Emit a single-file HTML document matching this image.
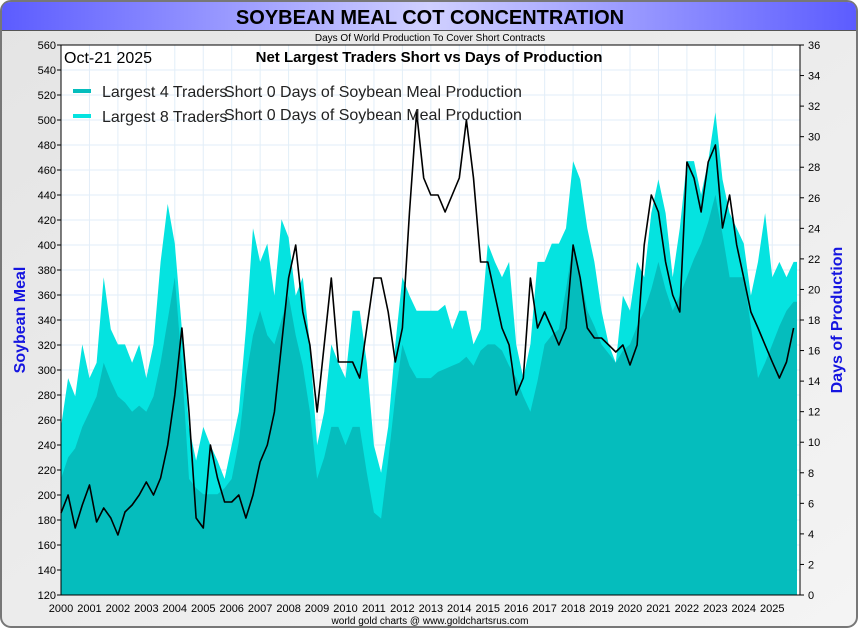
<!DOCTYPE html>
<html><head><meta charset="utf-8"><style>
html,body{margin:0;padding:0;background:#fff;}
svg{display:block;font-family:"Liberation Sans",sans-serif;}
</style></head><body>
<svg id="chart" width="860" height="630" viewBox="0 0 860 630">
<defs>
<linearGradient id="bg" x1="0" y1="0" x2="1" y2="1"><stop offset="0" stop-color="#e4e4e4"/><stop offset="1" stop-color="#f4f4f4"/></linearGradient>
<linearGradient id="tb" x1="0" y1="0" x2="1" y2="0"><stop offset="0" stop-color="#5c5cff"/><stop offset="0.5" stop-color="#d0d0ff"/><stop offset="1" stop-color="#5c5cff"/></linearGradient>
</defs>
<rect x="1" y="1" width="856" height="626" rx="10" fill="url(#bg)" stroke="#777" stroke-width="2"/>
<path d="M2,30 L2,11 Q2,2 11,2 L847,2 Q856,2 856,11 L856,30 Z" fill="url(#tb)"/>
<line x1="2" y1="30.5" x2="856" y2="30.5" stroke="#555" stroke-width="1"/>
<text x="430" y="24" text-anchor="middle" font-size="20" font-weight="bold" fill="#000">SOYBEAN MEAL COT CONCENTRATION</text>
<text x="430" y="41" text-anchor="middle" font-size="10" fill="#000">Days Of World Production To Cover Short Contracts</text>
<rect x="61" y="45" width="739" height="550" fill="#fff"/>
<g id="grid"></g>
<g id="series"></g>
<rect x="61" y="45" width="739" height="550" fill="none" stroke="#000" stroke-width="1"/>
<g id="axes"></g>
<text x="64" y="63" font-size="16" fill="#000">Oct-21  2025</text>
<text x="429" y="62" text-anchor="middle" font-size="15" font-weight="bold" fill="#000">Net Largest Traders Short vs Days of Production</text>
<line x1="73" y1="91" x2="91" y2="91" stroke="#05bdbd" stroke-width="4"/>
<text x="102" y="97" font-size="16" fill="#222">Largest 4 Traders</text>
<text x="224" y="97" font-size="16" fill="#222">Short 0 Days of Soybean Meal Production</text>
<line x1="73" y1="116" x2="91" y2="116" stroke="#05e3e0" stroke-width="4"/>
<text x="102" y="122" font-size="16" fill="#222">Largest 8 Traders</text>
<text x="224" y="120" font-size="16" fill="#222">Short 0 Days of Soybean Meal Production</text>
<text transform="translate(25,320) rotate(-90)" text-anchor="middle" font-size="16" font-weight="bold" fill="#1515e0">Soybean Meal</text>
<text transform="translate(842,320) rotate(-90)" text-anchor="middle" font-size="16" font-weight="bold" fill="#1515e0">Days of Production</text>
<text x="430" y="624" text-anchor="middle" font-size="10" fill="#000">world gold charts @ www.goldchartsrus.com</text>
</svg>
<script>
const startYear = 2000;
const stepYears = 0.25;
const yearLabels = ["2000","2001","2002","2003","2004","2005","2006","2007","2008","2009","2010","2011","2012","2013","2014","2015","2016","2017","2018","2019","2020","2021","2022","2023","2024","2025"];
const priceTicks = [120,140,160,180,200,220,240,260,280,300,320,340,360,380,400,420,440,460,480,500,520,540,560];
const daysTicks = [0,2,4,6,8,10,12,14,16,18,20,22,24,26,28,30,32,34,36];
const largest8Days = [11.0,14.2,13.0,16.4, 14.2,15.2,20.8,17.4, 16.4,16.4,15.2,16.4, 14.2,16.4,21.8,25.6, 23.0,17.4,11.0,8.8, 11.0,9.8,8.8,7.6, 9.8,12.0,17.4,24.0, 21.8,23.0,19.6,24.6, 23.4,19.6,20.8,16.4, 9.8,12.0,16.4,15.2, 14.2,18.6,18.6,15.2, 9.8,8.0,11.0,16.4, 20.8,19.6,18.6,18.6, 18.6,18.6,19.0,17.4, 18.6,18.6,16.4,17.4, 23.0,21.8,20.8,21.8, 16.4,14.2,16.4,21.8, 21.8,23.0,23.0,24.0, 28.4,27.2,24.0,21.8, 18.6,16.4,15.2,19.6, 18.6,21.8,20.8,25.0, 27.2,25.0,20.8,24.0, 28.4,28.4,26.2,28.4, 31.6,27.2,25.0,24.0, 23.0,19.6,21.8,25.0, 20.8,21.8,20.8,21.8];
const largest4Days = [7.6,9.0,9.6,11.0, 12.0,13.0,15.2,14.0, 13.0,12.6,12.0,12.4, 12.0,13.0,15.2,18.0, 20.8,15.0,7.6,7.0, 6.6,6.6,6.6,7.0, 7.6,10.0,14.2,17.0, 18.6,17.0,16.4,18.0, 19.6,17.0,15.0,12.0, 7.6,9.0,11.0,11.0, 9.8,11.0,11.0,8.0, 5.4,5.0,8.8,13.0, 16.4,15.0,14.2,14.2, 14.2,14.6,14.8,15.0, 15.2,15.6,15.0,16.0, 16.4,16.4,16.0,15.0, 14.2,13.0,12.0,14.0, 16.4,17.0,17.4,20.0, 23.0,21.0,18.6,17.6, 16.4,15.8,15.2,16.0, 16.4,17.6,18.6,20.0, 21.8,20.0,18.6,19.6, 20.8,22.0,23.0,24.4, 26.2,23.6,20.8,20.8, 20.8,17.6,14.2,15.2, 16.4,17.6,18.6,19.2];
const priceValues = [185.6,200,173.6,192, 208,178.4,189.6,181.6, 168,186.4,192,200, 210.4,200,213.6,240, 280,333.6,266.4,181.6, 173.6,240,213.6,194.4, 194.4,200,181.6,200, 226.4,240,266.4,320, 373.6,400,346.4,320, 266.4,320,373.6,306.4, 306.4,306.4,293.6,333.6, 373.6,373.6,346.4,306.4, 333.6,426.4,506.4,453.6, 440,440,426.4,440, 453.6,500,453.6,386.4, 386.4,360,333.6,320, 280,293.6,373.6,333.6, 346.4,333.6,320,333.6, 400,373.6,333.6,325.6, 325.6,320,314.4,320, 304,320,400,440, 426.4,386.4,360,346.4, 466.4,453.6,426.4,466.4, 480,413.6,440,400, 373.6,346.4,333.6,320, 306.4,293.6,306.4,333.6];

const NS = "http://www.w3.org/2000/svg";
const X0 = 61, X1 = 800, YT = 45, YB = 595, PX_PER_YEAR = 28.45;
function xYear(y){ return X0 + (y - startYear) * PX_PER_YEAR; }
function xIdx(i){ return xYear(startYear + i * stepYears); }
function yPrice(p){ return YB - (p - 120) / 440 * (YB - YT); }
function yDays(d){ return YB - d / 36 * (YB - YT); }
function mk(tag, attrs, parent){ const e = document.createElementNS(NS, tag); for (const k in attrs) e.setAttribute(k, attrs[k]); parent.appendChild(e); return e; }

const grid = document.getElementById('grid');
const axes = document.getElementById('axes');
const series = document.getElementById('series');

yearLabels.forEach((lab, i) => {
  const x = xYear(startYear + i);
  const gl = mk('line', {x1:x, x2:x, y1:YT, y2:YB, stroke:'#e2eef8', 'stroke-width':1}, grid);
  
  
  const t = mk('text', {x:x, y:612, 'text-anchor':'middle', 'font-size':11, fill:'#000'}, axes);
  t.textContent = lab;
  
  
});
priceTicks.forEach(p => {
  const y = yPrice(p);
  const gl = mk('line', {x1:X0, x2:X1, y1:y, y2:y, stroke:'#e2eef8', 'stroke-width':1}, grid);
  
  
  const tk = mk('line', {x1:X0-4, x2:X0, y1:y, y2:y, stroke:'#000'}, axes);
  
  
  const t = mk('text', {x:56, y:y+4, 'text-anchor':'end', 'font-size':11, fill:'#000'}, axes);
  t.textContent = p;
  
  
});
daysTicks.forEach(d => {
  const y = yDays(d);
  const tk = mk('line', {x1:X1, x2:X1+4, y1:y, y2:y, stroke:'#000'}, axes);
  
  
  const t = mk('text', {x:808, y:y+4, 'font-size':11, fill:'#000'}, axes);
  t.textContent = d;
  
  
});

function areaPath(vals){
  let d = 'M' + xIdx(0) + ',' + YB;
  vals.forEach((v, i) => { d += ' L' + xIdx(i).toFixed(1) + ',' + yDays(v).toFixed(1); });
  d += ' L' + (X1 - 3) + ',' + yDays(vals[vals.length-1]).toFixed(1) + ' L' + (X1 - 3) + ',' + YB + ' Z';
  return d;
}
const a8 = mk('path', {d:areaPath(largest8Days), fill:'#05e3e0'}, series);


const a4 = mk('path', {d:areaPath(largest4Days), fill:'#05bdbd'}, series);


let pd = '';
priceValues.forEach((v, i) => { pd += (i ? ' L' : 'M') + xIdx(i).toFixed(1) + ',' + yPrice(v).toFixed(1); });
const pl = mk('path', {d:pd, fill:'none', stroke:'#000', 'stroke-width':1.6, 'stroke-linejoin':'round'}, series);


</script>
</body></html>
